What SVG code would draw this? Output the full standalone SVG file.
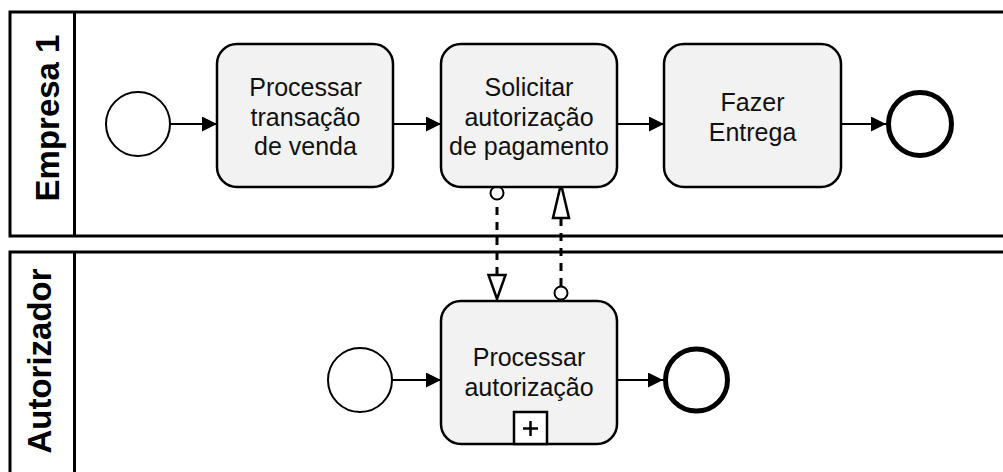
<svg xmlns="http://www.w3.org/2000/svg" width="1003" height="472" viewBox="0 0 1003 472">
  <style>
    .pool { fill: #ffffff; stroke: #000; stroke-width: 3; }
    .pool-label { font-family: "Liberation Sans", Arial, sans-serif; font-size: 33px; font-weight: bold; fill: #000; text-anchor: middle; }
    .task { fill: #f2f2f2; stroke: #000; stroke-width: 2.5; }
    .task-label { font-family: "Liberation Sans", Arial, sans-serif; font-size: 25px; fill: #111; text-anchor: middle; }
    .start { fill: #fff; stroke: #000; stroke-width: 2; }
    .end { fill: #fff; stroke: #000; stroke-width: 5; }
    .flow { fill: none; stroke: #000; stroke-width: 2; marker-end: url(#arrow); }
    .msg { fill: none; stroke: #000; stroke-width: 3; stroke-dasharray: 8 7; }
    .msg-head { fill: #fff; stroke: #000; stroke-width: 2.5; stroke-linejoin: miter; }
    .msg-tail { fill: #fff; stroke: #000; stroke-width: 2; }
    .marker-box { fill: #fff; stroke: #000; stroke-width: 2.5; }
  </style>
  <defs>
    <marker id="arrow" markerUnits="userSpaceOnUse" markerWidth="16" markerHeight="16" refX="15" refY="7.5" orient="auto">
      <path d="M0,0 L15,7.5 L0,15 Z" fill="#000"/>
    </marker>
  </defs>

  <rect width="1003" height="472" fill="#fff"/>

  <!-- Pool: Empresa 1 -->
  <g id="pool-empresa">
    <rect class="pool" x="10" y="12" width="1010" height="224"/>
    <line x1="74.5" y1="12" x2="74.5" y2="236" stroke="#000" stroke-width="3"/>
    <text class="pool-label" transform="translate(59,118) rotate(-90)">Empresa 1</text>
  </g>

  <!-- Pool: Autorizador -->
  <g id="pool-autorizador">
    <rect class="pool" x="10" y="252" width="1010" height="240"/>
    <line x1="74.5" y1="252" x2="74.5" y2="480" stroke="#000" stroke-width="3"/>
    <text class="pool-label" transform="translate(51,361) rotate(-90)">Autorizador</text>
  </g>

  <!-- Connectors -->
  <g id="connectors">
    <line class="flow" x1="170" y1="124" x2="217" y2="124"/>
    <line class="flow" x1="393" y1="124" x2="441" y2="124"/>
    <line class="flow" x1="617" y1="124" x2="664" y2="124"/>
    <line class="flow" x1="841" y1="124" x2="886" y2="124"/>
    <line class="flow" x1="392" y1="380" x2="441" y2="380"/>
    <line class="flow" x1="617" y1="380" x2="663" y2="380"/>

    <!-- message: request -->
    <line class="msg" x1="497" y1="207" x2="497" y2="275"/>
    <circle class="msg-tail" cx="497" cy="193" r="6.5"/>
    <path class="msg-head" d="M488.5,275 L505.5,275 L497,299 Z"/>

    <!-- message: reply -->
    <line class="msg" x1="561" y1="286" x2="561" y2="218"/>
    <circle class="msg-tail" cx="561" cy="293" r="6.5"/>
    <path class="msg-head" d="M553,218 L569,218 L561,184 Z"/>
  </g>

  <!-- Empresa 1 nodes -->
  <g id="start-1">
    <circle class="start" cx="138" cy="124" r="32"/>
  </g>
  <g id="task-processar-transacao">
    <rect class="task" x="217" y="44" width="176" height="143" rx="20"/>
    <text class="task-label" x="305.5" y="96">Processar</text>
    <text class="task-label" x="305.5" y="125.5">transação</text>
    <text class="task-label" x="305.5" y="155">de venda</text>
  </g>
  <g id="task-solicitar">
    <rect class="task" x="441" y="44" width="176" height="143" rx="20"/>
    <text class="task-label" x="529" y="96">Solicitar</text>
    <text class="task-label" x="529" y="125.5">autorização</text>
    <text class="task-label" x="529" y="155">de pagamento</text>
  </g>
  <g id="task-entrega">
    <rect class="task" x="664" y="44" width="177" height="143" rx="20"/>
    <text class="task-label" x="752.5" y="111">Fazer</text>
    <text class="task-label" x="752.5" y="140.5">Entrega</text>
  </g>
  <g id="end-1">
    <circle class="end" cx="920" cy="124" r="31.5"/>
  </g>

  <!-- Autorizador nodes -->
  <g id="start-2">
    <circle class="start" cx="360" cy="380" r="32"/>
  </g>
  <g id="subprocess-autorizacao">
    <rect class="task" x="441" y="301" width="176" height="143" rx="20"/>
    <text class="task-label" x="529" y="366">Processar</text>
    <text class="task-label" x="529" y="396">autorização</text>
    <rect class="marker-box" x="514" y="412" width="33" height="32"/>
    <path d="M530.5,421 V436 M523,428.5 H538" stroke="#000" stroke-width="2.5"/>
  </g>
  <g id="end-2">
    <circle class="end" cx="696.5" cy="380" r="31"/>
  </g>
</svg>
